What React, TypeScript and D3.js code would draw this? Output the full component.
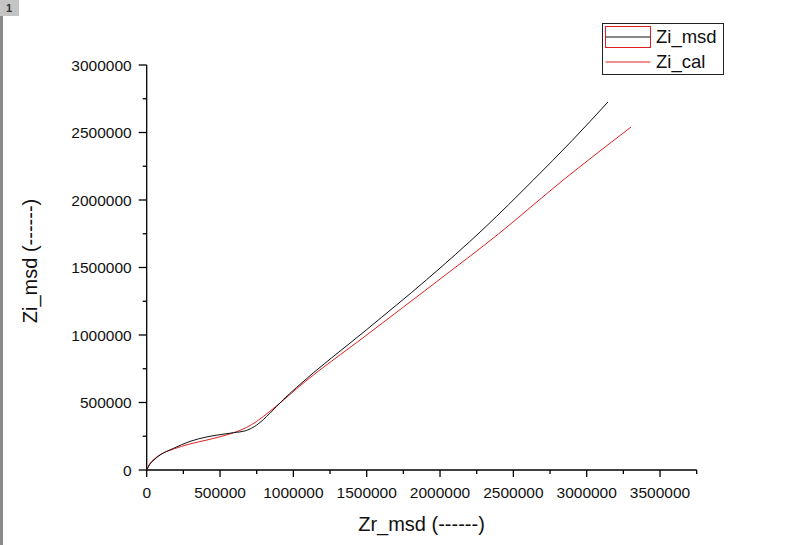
import React from "react";
import * as d3 from "d3";

const msdX = [0, 0.02, 0.05, 0.091, 0.182, 0.295, 0.41, 0.52, 0.59, 0.68, 0.75, 0.84, 0.93, 1.02, 1.5, 1.909, 2.3, 2.636, 2.9, 3.145].map((v) => v * 1e6);
const msdY = [0, 0.04, 0.075, 0.111, 0.16, 0.212, 0.245, 0.265, 0.276, 0.293, 0.333, 0.42, 0.52, 0.61, 1.04, 1.41, 1.79, 2.148, 2.44, 2.726].map((v) => v * 1e6);
const calX = [0, 0.02, 0.05, 0.091, 0.182, 0.295, 0.41, 0.52, 0.59, 0.68, 0.75, 0.84, 0.93, 1.02, 1.5, 1.977, 2.4, 2.84, 3.302].map((v) => v * 1e6);
const calY = [0, 0.045, 0.08, 0.113, 0.155, 0.193, 0.222, 0.252, 0.275, 0.315, 0.36, 0.435, 0.515, 0.6, 1.0, 1.395, 1.75, 2.148, 2.54].map((v) => v * 1e6);

const xTicks = [0, 500000, 1000000, 1500000, 2000000, 2500000, 3000000, 3500000];
const yTicks = [0, 500000, 1000000, 1500000, 2000000, 2500000, 3000000];
const seriesNames = ["Zi_msd", "Zi_cal"];
const xTitle = "Zr_msd (------)";
const yTitle = "Zi_msd (------)";

const FONT = "'Liberation Sans', Arial, sans-serif";

export default function App() {
  const x = d3.scaleLinear().domain([0, 3750000]).range([146.7, 696.7]);
  const y = d3.scaleLinear().domain([0, 3000000]).range([470, 65]);
  const line = d3
    .line<[number, number]>()
    .x((d) => x(d[0]))
    .y((d) => y(d[1]))
    .curve(d3.curveMonotoneX);
  const msd: [number, number][] = msdX.map((v, i) => [v, msdY[i]]);
  const cal: [number, number][] = calX.map((v, i) => [v, calY[i]]);
  const xMinor = d3.range(250000, 3750001, 500000);
  const yMinor = d3.range(250000, 3000000, 500000);
  const x0 = x(0);
  const y0 = y(0);

  return (
    <svg
      width={800}
      height={545}
      style={{ position: "absolute", left: 0, top: 0, background: "#fff" }}
      fontFamily={FONT}
    >
      <rect x={0} y={0} width={800} height={545} fill="#fff" />
      <rect x={0} y={0} width={3} height={545} fill="#8a8a8a" />
      <rect x={0} y={0} width={19} height={16} fill="#c4c4c4" />
      <text x={9} y={12} fontSize={11} fontWeight="bold" textAnchor="middle" fill="#333">1</text>

      {/* axes */}
      <line x1={x0} x2={x0} y1={y(3000000)} y2={y0} stroke="#000" strokeWidth={1.3} />
      <line x1={x0} x2={x(3750000)} y1={y0} y2={y0} stroke="#000" strokeWidth={1.3} />
      {yTicks.map((t) => (
        <g key={"yt" + t}>
          <line x1={x0 - 8} x2={x0} y1={y(t)} y2={y(t)} stroke="#000" strokeWidth={1.3} />
          <text x={x0 - 15} y={y(t) + 5.5} fontSize={15.5} textAnchor="end" fill="#111">{t}</text>
        </g>
      ))}
      {yMinor.map((t) => (
        <line key={"ym" + t} x1={x0 - 4} x2={x0} y1={y(t)} y2={y(t)} stroke="#000" strokeWidth={1.3} />
      ))}
      {xTicks.map((t) => (
        <g key={"xt" + t}>
          <line x1={x(t)} x2={x(t)} y1={y0} y2={y0 + 7} stroke="#000" strokeWidth={1.3} />
          <text x={x(t)} y={498} fontSize={15.5} textAnchor="middle" fill="#111">{t}</text>
        </g>
      ))}
      {xMinor.map((t) => (
        <line key={"xm" + t} x1={x(t)} x2={x(t)} y1={y0} y2={y0 + 4} stroke="#000" strokeWidth={1.3} />
      ))}

      <text x={421.5} y={531} fontSize={20} textAnchor="middle" fill="#111">{xTitle}</text>
      <text transform="translate(37,261) rotate(-90)" fontSize={20} textAnchor="middle" fill="#111">{yTitle}</text>

      {/* curves */}
      <path d={line(cal) || ""} fill="none" stroke="#e02020" strokeWidth={1} />
      <path d={line(msd) || ""} fill="none" stroke="#111" strokeWidth={1} />

      {/* legend */}
      <rect x={602.5} y={23.5} width={121} height={51} fill="#fff" stroke="#222" strokeWidth={1} />
      <rect x={605.5} y={26.5} width={45} height={21} fill="none" stroke="#e02020" strokeWidth={1} />
      <line x1={605.5} x2={650.5} y1={37} y2={37} stroke="#111" strokeWidth={1} />
      <text x={656} y={43} fontSize={18.5} fill="#111">{seriesNames[0]}</text>
      <line x1={605.5} x2={650.5} y1={62} y2={62} stroke="#e02020" strokeWidth={1} />
      <text x={656} y={68} fontSize={18.5} fill="#111">{seriesNames[1]}</text>
    </svg>
  );
}
